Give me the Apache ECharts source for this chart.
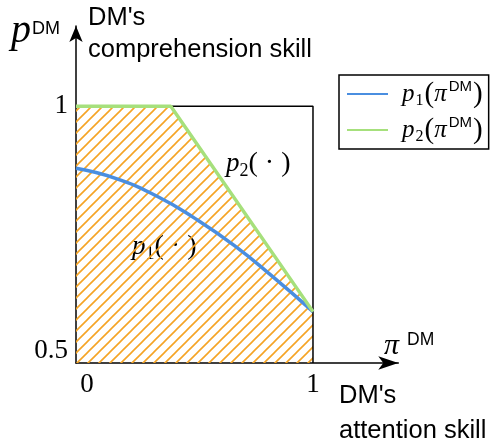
<!DOCTYPE html>
<html>
<head>
<meta charset="utf-8">
<script src="https://cdn.jsdelivr.net/npm/echarts@6/dist/echarts.min.js"></script>
<style>html,body{margin:0;padding:0;background:#fff;}#chart{width:494px;height:444px;}</style>
</head>
<body>
<div id="chart"></div>
<script>
// ---- data ----
const xTickValues = [0, 1];
const yTickValues = [0.5, 1];
const p2Points = [[0, 1], [0.4, 1], [1, 0.6]];
const p1Points = [[0, 0.879], [0.17, 0.859], [0.34, 0.825], [0.5, 0.782], [0.67, 0.728], [0.83, 0.668], [1, 0.6]];
const regionPoints = [[0, 1], [0.4, 1], [1, 0.6], [1, 0.5]];
const boxPoints = [[0, 1], [1, 1], [1, 0.5]];
const seriesNames = ['p1', 'p2'];

// hatch pattern
function makeHatch() {
  const s = 11;
  const c = document.createElement('canvas');
  c.width = s; c.height = s;
  const g = c.getContext('2d');
  g.strokeStyle = '#f5a425';
  g.lineWidth = 1.6;
  g.beginPath();
  g.moveTo(-2, s + 2); g.lineTo(s + 2, -2);
  g.moveTo(-2, 2); g.lineTo(2, -2);
  g.moveTo(s - 2, s + 2); g.lineTo(s + 2, s - 2);
  g.stroke();
  return c;
}

const serif = 'Liberation Serif';
const sans = 'Liberation Sans';
const richMath = {
  it: { fontFamily: serif, fontStyle: 'italic', fontSize: 27, color: '#000', lineHeight: 32, verticalAlign: 'middle' },
  n: { fontFamily: serif, fontSize: 28, color: '#000', lineHeight: 32, verticalAlign: 'middle' },
  sub: { fontFamily: serif, fontSize: 18, color: '#000', lineHeight: 17, verticalAlign: 'bottom' }
};
const richLegend = {
  it: { fontFamily: serif, fontStyle: 'italic', fontSize: 25, color: '#000', lineHeight: 30, verticalAlign: 'middle' },
  n: { fontFamily: serif, fontSize: 29, color: '#000', lineHeight: 30, verticalAlign: 'middle' },
  sub: { fontFamily: serif, fontSize: 16, color: '#000', lineHeight: 14, verticalAlign: 'bottom', padding: [0, 1, 0, 1] },
  sup: { fontFamily: sans, fontSize: 15, color: '#000', lineHeight: 17, verticalAlign: 'top', padding: [0, 1, 0, 2] }
};

const chart = echarts.init(document.getElementById('chart'), null, { renderer: 'canvas' });
const option = {
  animation: false,
  grid: { left: 76, top: 26, width: 322.3, height: 337 },
  xAxis: {
    type: 'value', min: 0, max: 1.36,
    splitLine: { show: false },
    axisTick: { show: false },
    axisLine: { show: true, onZero: false, lineStyle: { color: '#000', width: 1.5 }, symbol: ['none', 'arrow'], symbolSize: [10, 20] },
    axisLabel: {
      customValues: xTickValues, color: '#000', margin: 8,
      formatter: v => v === 0 ? '{z|0}' : '{o|' + v + '}',
      rich: {
        z: { fontFamily: serif, fontSize: 27, color: '#000', padding: [0, 0, 0, 22] },
        o: { fontFamily: serif, fontSize: 27, color: '#000' }
      }
    }
  },
  yAxis: {
    type: 'value', min: 0.5, max: 1.156,
    splitLine: { show: false },
    axisTick: { show: false },
    axisLine: { show: true, onZero: false, lineStyle: { color: '#000', width: 1.5 }, symbol: ['none', 'arrow'], symbolSize: [10, 16] },
    axisLabel: {
      customValues: yTickValues, color: '#000', margin: 8,
      formatter: v => v === 0.5 ? '{h|0.5}' : '{o|1}',
      rich: {
        h: { fontFamily: serif, fontSize: 27, color: '#000', padding: [0, 0, 24, 0] },
        o: { fontFamily: serif, fontSize: 27, color: '#000' }
      }
    }
  },
  legend: {
    data: seriesNames,
    orient: 'vertical',
    left: 339, top: 75,
    padding: [4, 6, 4, 8],
    itemGap: 6,
    itemWidth: 41, itemHeight: 2,
    icon: 'rect',
    borderColor: '#000', borderWidth: 1.5,
    formatter: name => name === 'p1' ? '{it|p}{sub|1}{n|(}{it|π}{sup|DM}{n|)}' : '{it|p}{sub|2}{n|(}{it|π}{sup|DM}{n|)}',
    textStyle: { rich: richLegend, padding: [0, 0, 0, 9] }
  },
  series: [
    {
      name: 'region', type: 'line', data: regionPoints, showSymbol: false, silent: true,
      lineStyle: { width: 0, opacity: 0 },
      areaStyle: { color: { image: makeHatch(), repeat: 'repeat' }, opacity: 1, origin: 'start' },
      z: 1
    },
    {
      name: 'box', type: 'line', data: boxPoints, showSymbol: false, silent: true,
      lineStyle: { color: '#000', width: 1.5 }, z: 2
    },
    {
      name: 'p1', type: 'line', data: p1Points, smooth: 0.5, showSymbol: false,
      color: '#4a8ee0', lineStyle: { color: '#4a8ee0', width: 3.5 }, z: 4
    },
    {
      name: 'p2', type: 'line', data: p2Points, showSymbol: false,
      color: '#a6e07c', lineStyle: { color: '#a6e07c', width: 3.5 }, z: 5
    }
  ],
  graphic: [
    { type: 'text', left: 11, top: 11, style: { text: 'p', font: 'italic 40px "Liberation Serif"', fill: '#000' } },
    { type: 'text', left: 32, top: 20, style: { text: 'DM', font: '18px "Liberation Sans"', fill: '#000' } },
    { type: 'text', left: 88, top: 2, style: { text: "DM's\ncomprehension skill", font: '25.5px "Liberation Sans"', lineHeight: 32, fill: '#000' } },
    { type: 'text', left: 384, top: 331, style: { text: 'π', font: 'italic 30px "Liberation Serif"', fill: '#000' } },
    { type: 'text', left: 407, top: 331, style: { text: 'DM', font: '17.5px "Liberation Sans"', fill: '#000' } },
    { type: 'text', left: 339, top: 378, style: { text: "DM's\nattention skill", font: '25.5px "Liberation Sans"', lineHeight: 35, fill: '#000' } },
    { type: 'text', left: 226, top: 150, style: { text: '{it|p}{sub|2}{n|( · )}', rich: richMath } },
    { type: 'text', left: 132, top: 233, style: { text: '{it|p}{sub|1}{n|( · )}', rich: richMath } }
  ]
};
chart.setOption(option);
</script>
</body>
</html>
